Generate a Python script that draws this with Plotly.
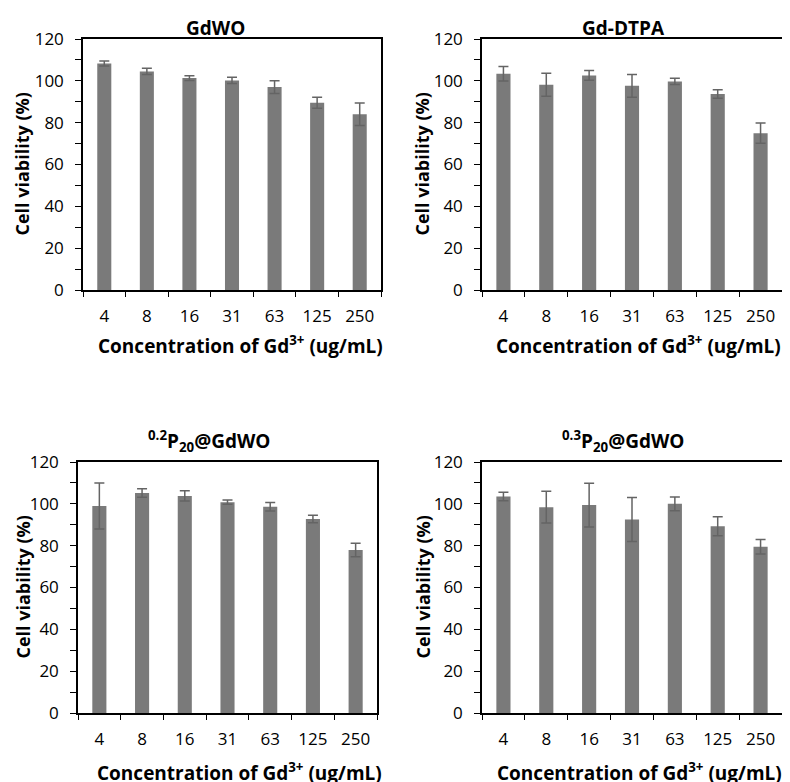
import plotly.graph_objects as go

categories = ["4", "8", "16", "31", "63", "125", "250"]

gdwo_vals = [108.3, 104.5, 101.3, 100.2, 97.0, 89.5, 84.0]
gdwo_err = [1.2, 1.5, 1.1, 1.5, 3.0, 2.6, 5.4]

dtpa_vals = [103.4, 98.1, 102.6, 97.6, 99.7, 93.7, 75.0]
dtpa_err = [3.5, 5.5, 2.3, 5.4, 1.5, 2.0, 4.8]

p02_vals = [99.0, 105.2, 103.8, 100.8, 98.6, 92.7, 77.9]
p02_err = [11.0, 2.0, 2.4, 1.0, 2.0, 1.8, 3.2]

p03_vals = [103.5, 98.4, 99.4, 92.5, 100.0, 89.3, 79.5]
p03_err = [2.0, 7.6, 10.5, 10.5, 3.3, 4.5, 3.5]

titles = ["<b>GdWO</b>", "<b>Gd-DTPA</b>",
          "<b><sup>0.2</sup>P<sub>20</sub>@GdWO</b>",
          "<b><sup>0.3</sup>P<sub>20</sub>@GdWO</b>"]
x_title = "<b>Concentration of Gd<sup>3+</sup> (ug/mL)</b>"
y_title = "<b>Cell viability (%)</b>"
y_ticks = [0, 20, 40, 60, 80, 100, 120]

W, H = 790, 782
OFF = 8  # page body margin offset
FONT = "Open Sans"
BAR = "rgb(122,122,122)"
ERR = "rgb(100,100,100)"


def px(v):
    return (v - OFF) / W


def py(v):
    return 1 - (v - OFF) / H


# panel geometry in window pixels:
# (left, right, top, bottom, title_x, title_y, xtitle_x, xtitle_y, ytitle_x)
panels = [(83, 381, 39, 290, 215, 28, 240, 345, 22),
          (482, 782, 39, 290, 623, 28, 638, 345, 422),
          (78, 377, 462, 713, 209, 441, 239, 772, 22),
          (482, 782, 462, 713, 623, 441, 639, 772, 422)]

series = [(gdwo_vals, gdwo_err), (dtpa_vals, dtpa_err),
          (p02_vals, p02_err), (p03_vals, p03_err)]

fig = go.Figure()
annotations = []
layout = {}
for i, ((vals, errs), geo, title) in enumerate(zip(series, panels, titles)):
    l, r, t, b, tx, ty, xtx, xty, ytx = geo
    n = "" if i == 0 else str(i + 1)
    fig.add_trace(go.Bar(
        x=categories, y=vals,
        error_y=dict(type="data", array=errs, visible=True, color=ERR,
                     thickness=1.5, width=5),
        marker=dict(color=BAR, line=dict(width=0)),
        xaxis="x" + n, yaxis="y" + n, showlegend=False,
    ))
    layout["xaxis" + n] = dict(
        domain=[px(l), px(r)], anchor="y" + n, type="category",
        showline=True, linecolor="black", linewidth=1.5, mirror=True,
        ticks="outside", tickson="boundaries", ticklen=5, tickcolor="black",
        tickwidth=1.2, ticklabelstandoff=10,
        tickfont=dict(family=FONT, size=17, color="black"),
        showgrid=False, zeroline=False, fixedrange=True,
    )
    layout["yaxis" + n] = dict(
        domain=[py(b), py(t)], anchor="x" + n, range=[0, 120],
        tickvals=y_ticks,
        showline=True, linecolor="black", linewidth=1.5, mirror=True,
        ticks="outside", ticklen=6, tickcolor="black", tickwidth=1.2,
        ticklabelstandoff=8,
        minor=dict(dtick=10, ticks="outside", ticklen=6, tickcolor="black",
                   tickwidth=1.2),
        tickfont=dict(family=FONT, size=17, color="black"),
        showgrid=False, zeroline=False, fixedrange=True,
    )
    annotations.append(dict(text=title, x=px(tx), y=py(ty),
                            xref="paper", yref="paper", showarrow=False,
                            xanchor="center", yanchor="middle",
                            font=dict(family=FONT, size=19, color="black")))
    annotations.append(dict(text=x_title, x=px(xtx), y=py(xty),
                            xref="paper", yref="paper", showarrow=False,
                            xanchor="center", yanchor="middle",
                            font=dict(family=FONT, size=19, color="black")))
    annotations.append(dict(text=y_title, x=px(ytx), y=py((t + b) / 2),
                            xref="paper", yref="paper", showarrow=False,
                            textangle=-90, xanchor="center", yanchor="middle",
                            font=dict(family=FONT, size=18, color="black")))

fig.update_layout(
    width=W, height=H,
    margin=dict(l=0, r=0, t=0, b=0, pad=0, autoexpand=False),
    paper_bgcolor="white", plot_bgcolor="white",
    bargap=0.67, annotations=annotations, **layout,
)

fig.write_html("out.html")
